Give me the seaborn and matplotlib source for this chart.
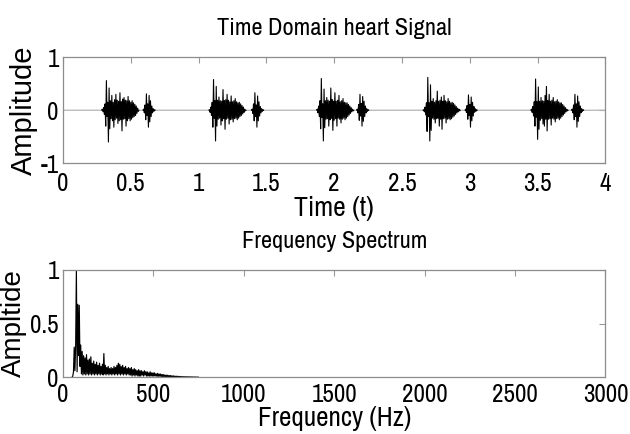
import numpy as np
import pandas as pd
import matplotlib
matplotlib.use("Agg")
import matplotlib.pyplot as plt
import seaborn as sns

# ---------------- data ----------------
dt = 0.005                      # sample spacing of time signal (s)
t_end = 4.0

# onsets (s) of first (S1) and second (S2) heart sounds
s1_onsets = [0.288, 1.082, 1.874, 2.661, 3.454]
s2_onsets = [0.595, 1.395, 2.172, 2.969, 3.756]

s1_beat1 = [0.02, -0.03, 0.05, -0.08, 0.12, -0.30, 0.56, -0.12, 0.15, -0.60, 0.42, -0.35,
            0.18, -0.16, 0.28, -0.20, 0.15, -0.32, 0.20, -0.18, 0.30, -0.15, 0.19, -0.25,
            0.17, -0.20, 0.33, -0.18, 0.16, -0.39, 0.21, -0.17, 0.24, -0.16, 0.19, -0.30,
            0.18, -0.20, 0.26, -0.16, 0.18, -0.20, 0.15, -0.17, 0.18, -0.14, 0.14, -0.12,
            0.11, -0.10, 0.08, -0.06, 0.04, -0.02]
s1_beat2 = [0.01, -0.04, 0.06, -0.10, 0.15, -0.32, 0.58, -0.15, 0.18, -0.58, 0.45, -0.30,
            0.19, -0.17, 0.25, -0.15, 0.18, -0.28, 0.17, -0.20, 0.39, -0.16, 0.18, -0.36,
            0.20, -0.17, 0.30, -0.15, 0.19, -0.26, 0.16, -0.18, 0.27, -0.17, 0.16, -0.22,
            0.18, -0.16, 0.22, -0.15, 0.16, -0.18, 0.14, -0.15, 0.15, -0.12, 0.12, -0.10,
            0.09, -0.07, 0.06, -0.04, 0.02, -0.01]
s1_beat3 = [0.02, -0.05, 0.08, -0.12, 0.18, -0.35, 0.60, -0.14, 0.12, -0.58, 0.40, -0.33,
            0.18, -0.17, 0.24, -0.16, 0.19, -0.30, 0.17, -0.18, 0.42, -0.15, 0.20, -0.38,
            0.17, -0.19, 0.33, -0.16, 0.17, -0.30, 0.19, -0.15, 0.28, -0.17, 0.16, -0.24,
            0.18, -0.17, 0.22, -0.15, 0.15, -0.18, 0.14, -0.15, 0.14, -0.12, 0.11, -0.09,
            0.08, -0.06, 0.05, -0.03, 0.02, -0.01]
s1_beat4 = [0.01, -0.03, 0.06, -0.09, 0.14, -0.40, 0.62, -0.12, 0.14, -0.58, 0.48, -0.38,
            0.17, -0.15, 0.22, -0.17, 0.15, -0.24, 0.18, -0.16, 0.36, -0.15, 0.17, -0.30,
            0.19, -0.17, 0.25, -0.36, 0.17, -0.16, 0.28, -0.15, 0.18, -0.24, 0.16, -0.17,
            0.22, -0.16, 0.17, -0.18, 0.14, -0.16, 0.15, -0.13, 0.13, -0.11, 0.10, -0.08,
            0.07, -0.05, 0.04, -0.03, 0.02, -0.01]
s1_beat5 = [0.02, -0.04, 0.07, -0.11, 0.16, -0.30, 0.59, -0.13, 0.16, -0.55, 0.44, -0.36,
            0.17, -0.19, 0.24, -0.16, 0.18, -0.26, 0.17, -0.30, 0.28, -0.17, 0.45, -0.39,
            0.18, -0.17, 0.30, -0.16, 0.17, -0.28, 0.19, -0.15, 0.24, -0.17, 0.16, -0.22,
            0.17, -0.16, 0.20, -0.15, 0.16, -0.18, 0.14, -0.15, 0.14, -0.12, 0.11, -0.09,
            0.08, -0.06, 0.05, -0.03, 0.02, -0.01]

s2_beat1 = [0.02, -0.05, 0.10, -0.18, 0.31, -0.10, 0.12, -0.32, 0.28, -0.22, 0.18, -0.12, 0.08, -0.05, 0.03, -0.02, 0.01]
s2_beat2 = [0.02, -0.06, 0.12, -0.20, 0.33, -0.12, 0.10, -0.32, 0.27, -0.20, 0.16, -0.11, 0.07, -0.05, 0.03, -0.02, 0.01]
s2_beat3 = [0.02, -0.05, 0.11, -0.19, 0.30, -0.11, 0.13, -0.30, 0.26, -0.21, 0.17, -0.12, 0.08, -0.05, 0.03, -0.02, 0.01]
s2_beat4 = [0.02, -0.04, 0.09, -0.17, 0.29, -0.10, 0.11, -0.32, 0.25, -0.20, 0.15, -0.11, 0.07, -0.04, 0.03, -0.02, 0.01]
s2_beat5 = [0.02, -0.05, 0.10, -0.18, 0.30, -0.12, 0.12, -0.32, 0.27, -0.21, 0.16, -0.12, 0.08, -0.05, 0.03, -0.02, 0.01]

s1_bursts = [s1_beat1, s1_beat2, s1_beat3, s1_beat4, s1_beat5]
s2_bursts = [s2_beat1, s2_beat2, s2_beat3, s2_beat4, s2_beat5]

# frequency spectrum, sampled every 4 Hz from 50 Hz
f_start, f_step = 50, 4
spec_amp = [
    0.00, 0.01, 0.05, 0.28, 0.06, 0.30, 1.00, 0.05, 0.68, 0.20, 0.67, 0.10, 0.30, 0.03, 0.24, 0.02,
    0.20, 0.03, 0.18, 0.02, 0.21, 0.03, 0.16, 0.02, 0.17, 0.03, 0.19, 0.02, 0.13, 0.03, 0.15, 0.02,
    0.12, 0.03, 0.14, 0.02, 0.11, 0.03, 0.13, 0.02, 0.10, 0.03, 0.12, 0.02, 0.22, 0.03, 0.11, 0.02,
    0.09, 0.03, 0.10, 0.02, 0.08, 0.03, 0.09, 0.02, 0.08, 0.03, 0.10, 0.02, 0.09, 0.03, 0.11, 0.02,
    0.13, 0.03, 0.12, 0.02, 0.10, 0.03, 0.11, 0.02, 0.09, 0.03, 0.10, 0.02, 0.08, 0.03, 0.09, 0.02,
    0.08, 0.02, 0.09, 0.01, 0.07, 0.02, 0.08, 0.01, 0.07, 0.02, 0.06, 0.01, 0.07, 0.01, 0.06, 0.01,
    0.06, 0.02, 0.05, 0.01, 0.06, 0.02, 0.05, 0.01, 0.05, 0.01, 0.04, 0.01, 0.05, 0.01, 0.04, 0.01,
    0.04, 0.01, 0.04, 0.01, 0.03, 0.01, 0.035, 0.005, 0.03, 0.01, 0.03, 0.005, 0.025, 0.005, 0.025, 0.004,
    0.02, 0.004, 0.02, 0.003, 0.018, 0.003, 0.016, 0.003, 0.015, 0.002, 0.013, 0.002, 0.012, 0.002, 0.01, 0.002,
    0.009, 0.002, 0.008, 0.001, 0.007, 0.001, 0.006, 0.001, 0.005, 0.001, 0.004, 0.001, 0.004, 0.001, 0.003, 0.001,
    0.003, 0.001, 0.002, 0.001, 0.002, 0.001, 0.002, 0.0, 0.001, 0.0, 0.001, 0.0, 0.0, 0.0, 0.0, 0.0,
]

time_ticks = [0, 0.5, 1, 1.5, 2, 2.5, 3, 3.5, 4]
time_tick_labels = ["0", "0.5", "1", "1.5", "2", "2.5", "3", "3.5", "4"]
amp_ticks = [-1, 0, 1]
amp_tick_labels = ["-1", "0", "1"]
freq_ticks = [0, 500, 1000, 1500, 2000, 2500, 3000]
freq_tick_labels = ["0", "500", "1000", "1500", "2000", "2500", "3000"]
spec_ticks = [0, 0.5, 1]
spec_tick_labels = ["0", "0.5", "1"]

# ---------------- assemble ----------------
n = int(round(t_end / dt)) + 1
t = np.arange(n) * dt
sig = np.zeros(n)
is_sound = np.zeros(n, dtype=bool)
for onsets, bursts in ((s1_onsets, s1_bursts), (s2_onsets, s2_bursts)):
    for on, burst in zip(onsets, bursts):
        i0 = int(round(on / dt))
        sig[i0:i0 + len(burst)] = burst
        is_sound[i0:i0 + len(burst)] = True

# split into contiguous runs (quiet vs sound), sharing boundary samples
rows = []
seg = 0
start = 0
for i in range(1, n + 1):
    if i == n or is_sound[i] != is_sound[start]:
        kind = "sound" if is_sound[start] else "quiet"
        lo = max(start - 1, 0)
        hi = min(i + 1, n)
        for j in range(lo, hi):
            rows.append((t[j], sig[j], kind, seg))
        seg += 1
        start = i
df_time = pd.DataFrame(rows, columns=["t", "amp", "kind", "seg"])

freq = f_start + np.arange(len(spec_amp)) * f_step
df_freq = pd.DataFrame({"f": freq, "amp": spec_amp})

# ---------------- style ----------------
sns.set_theme(style="white")
plt.rcParams["font.family"] = ["Archivo Narrow", "Liberation Sans Narrow", "DejaVu Sans"]
plt.rcParams["text.color"] = "black"
plt.rcParams["axes.labelcolor"] = "black"
plt.rcParams["axes.titlecolor"] = "black"

fig = plt.figure(figsize=(6.3, 4.34), dpi=100)
ax1 = fig.add_axes([0.100, 0.624, 0.861, 0.244])
ax2 = fig.add_axes([0.100, 0.131, 0.861, 0.247])

sns.lineplot(data=df_time[df_time.kind == "quiet"], x="t", y="amp", units="seg", ax=ax1,
             color="#b4b4b4", linewidth=0.9, estimator=None, sort=False, legend=False)
sns.lineplot(data=df_time[df_time.kind == "sound"], x="t", y="amp", units="seg", ax=ax1,
             color="black", linewidth=0.8, estimator=None, sort=False, legend=False)
sns.lineplot(data=df_freq, x="f", y="amp", ax=ax2, color="black", linewidth=0.85,
             estimator=None, sort=False)

def style(ax, xt, xtl, yt, ytl, xlim, ylim, xpad):
    ax.set_xlim(*xlim)
    ax.set_ylim(*ylim)
    ax.set_xticks(xt)
    ax.set_xticklabels(xtl)
    ax.set_yticks(yt)
    ax.set_yticklabels(ytl)
    ax.tick_params(direction="in", length=4, width=0.8, color="#999999",
                   top=True, right=True, labelsize=18, labelcolor="black")
    ax.tick_params(axis="x", pad=xpad)
    ax.tick_params(axis="y", pad=3)
    for s in ax.spines.values():
        s.set_color("#8c8c8c")
        s.set_linewidth(0.9)
    ax.set_facecolor("white")

style(ax1, time_ticks, time_tick_labels, amp_ticks, amp_tick_labels, (0, 4), (-1, 1), 6)
style(ax2, freq_ticks, freq_tick_labels, spec_ticks, spec_tick_labels, (0, 3000), (0, 1), 4.5)

ax1.set_title("Time Domain heart Signal", fontsize=17.5, pad=16)
ax1.set_xlabel("Time (t)", fontsize=20, labelpad=1)
ax1.set_ylabel("Amplitude", fontsize=21, labelpad=2, family=["Liberation Sans", "DejaVu Sans"])
ax2.set_title("Frequency Spectrum", fontsize=17.5, pad=16)
ax2.set_xlabel("Frequency (Hz)", fontsize=19.5, labelpad=0)
ax2.set_ylabel("Ampltide", fontsize=20, labelpad=2, family=["Liberation Sans", "DejaVu Sans"])

fig.savefig("out.png", dpi=100, facecolor="white")
